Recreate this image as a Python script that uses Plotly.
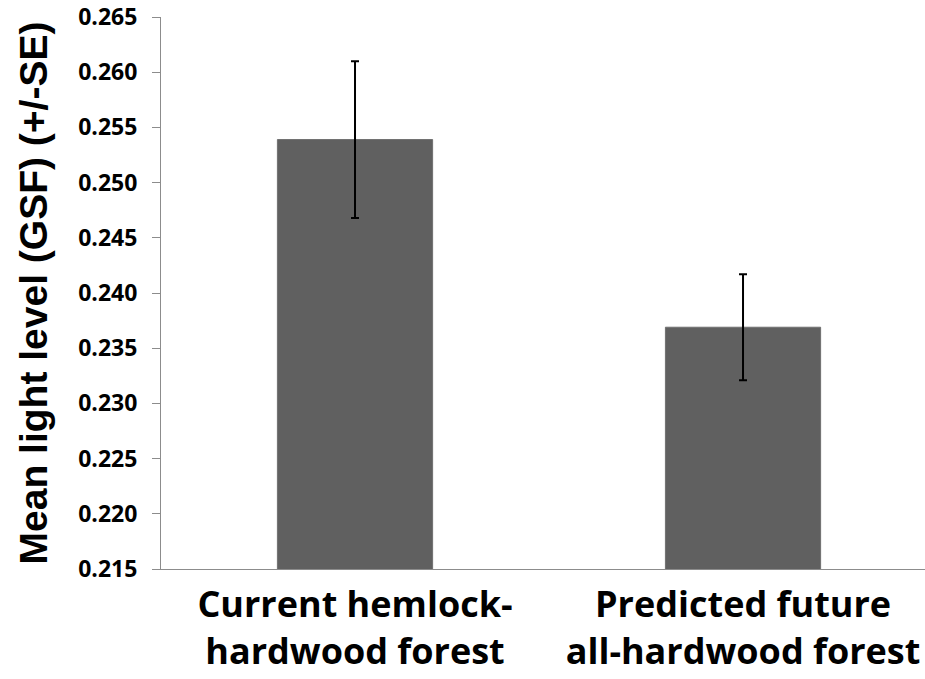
import plotly.graph_objects as go

categories = ["Current hemlock-<br>hardwood forest", "Predicted future<br>all-hardwood forest"]
mean_gsf = [0.2539, 0.2369]
se_gsf = [0.0071, 0.0048]
y_ticks = [0.215, 0.220, 0.225, 0.230, 0.235, 0.240, 0.245, 0.250, 0.255, 0.260, 0.265]
y_title = "Mean light level (GSF) (+/-SE)"

fig = go.Figure(
    go.Bar(
        x=categories,
        y=mean_gsf,
        width=0.4,
        marker=dict(color="#606060", line=dict(color="#707070", width=1)),
        error_y=dict(type="data", array=se_gsf, visible=True, color="#000000",
                     thickness=2, width=4),
    )
)

axis_color = "#8c8c8c"
fig.update_layout(
    width=925, height=679,
    margin=dict(l=161, r=0, t=17, b=110, autoexpand=False),
    paper_bgcolor="white", plot_bgcolor="white",
    showlegend=False,
    xaxis=dict(
        type="category",
        range=[-0.5, 1.469],
        showline=True, linecolor=axis_color, linewidth=1,
        showgrid=False, ticks="",
        tickfont=dict(family="Open Sans", size=36, color="#000000", weight="bold"),
        ticklabelstandoff=4,
        ticklabeloverflow="allow",
    ),
    yaxis=dict(
        range=[0.215, 0.265],
        tickvals=y_ticks,
        ticktext=[f"{v:.3f}" for v in y_ticks],
        showline=True, linecolor=axis_color, linewidth=1,
        showgrid=False, zeroline=False,
        ticks="outside", ticklen=8, tickcolor=axis_color, tickwidth=1,
        tickfont=dict(family="Open Sans", size=23, color="#000000", weight="bold"),
        ticklabelstandoff=10,
        ticklabeloverflow="allow",
        title=dict(text=y_title, standoff=18,
                   font=dict(family="Liberation Sans", size=39, color="#000000", weight="bold")),
    ),
)

fig.write_html("out.html", config={"displayModeBar": False},
               post_script="document.body.style.margin='0px';")
